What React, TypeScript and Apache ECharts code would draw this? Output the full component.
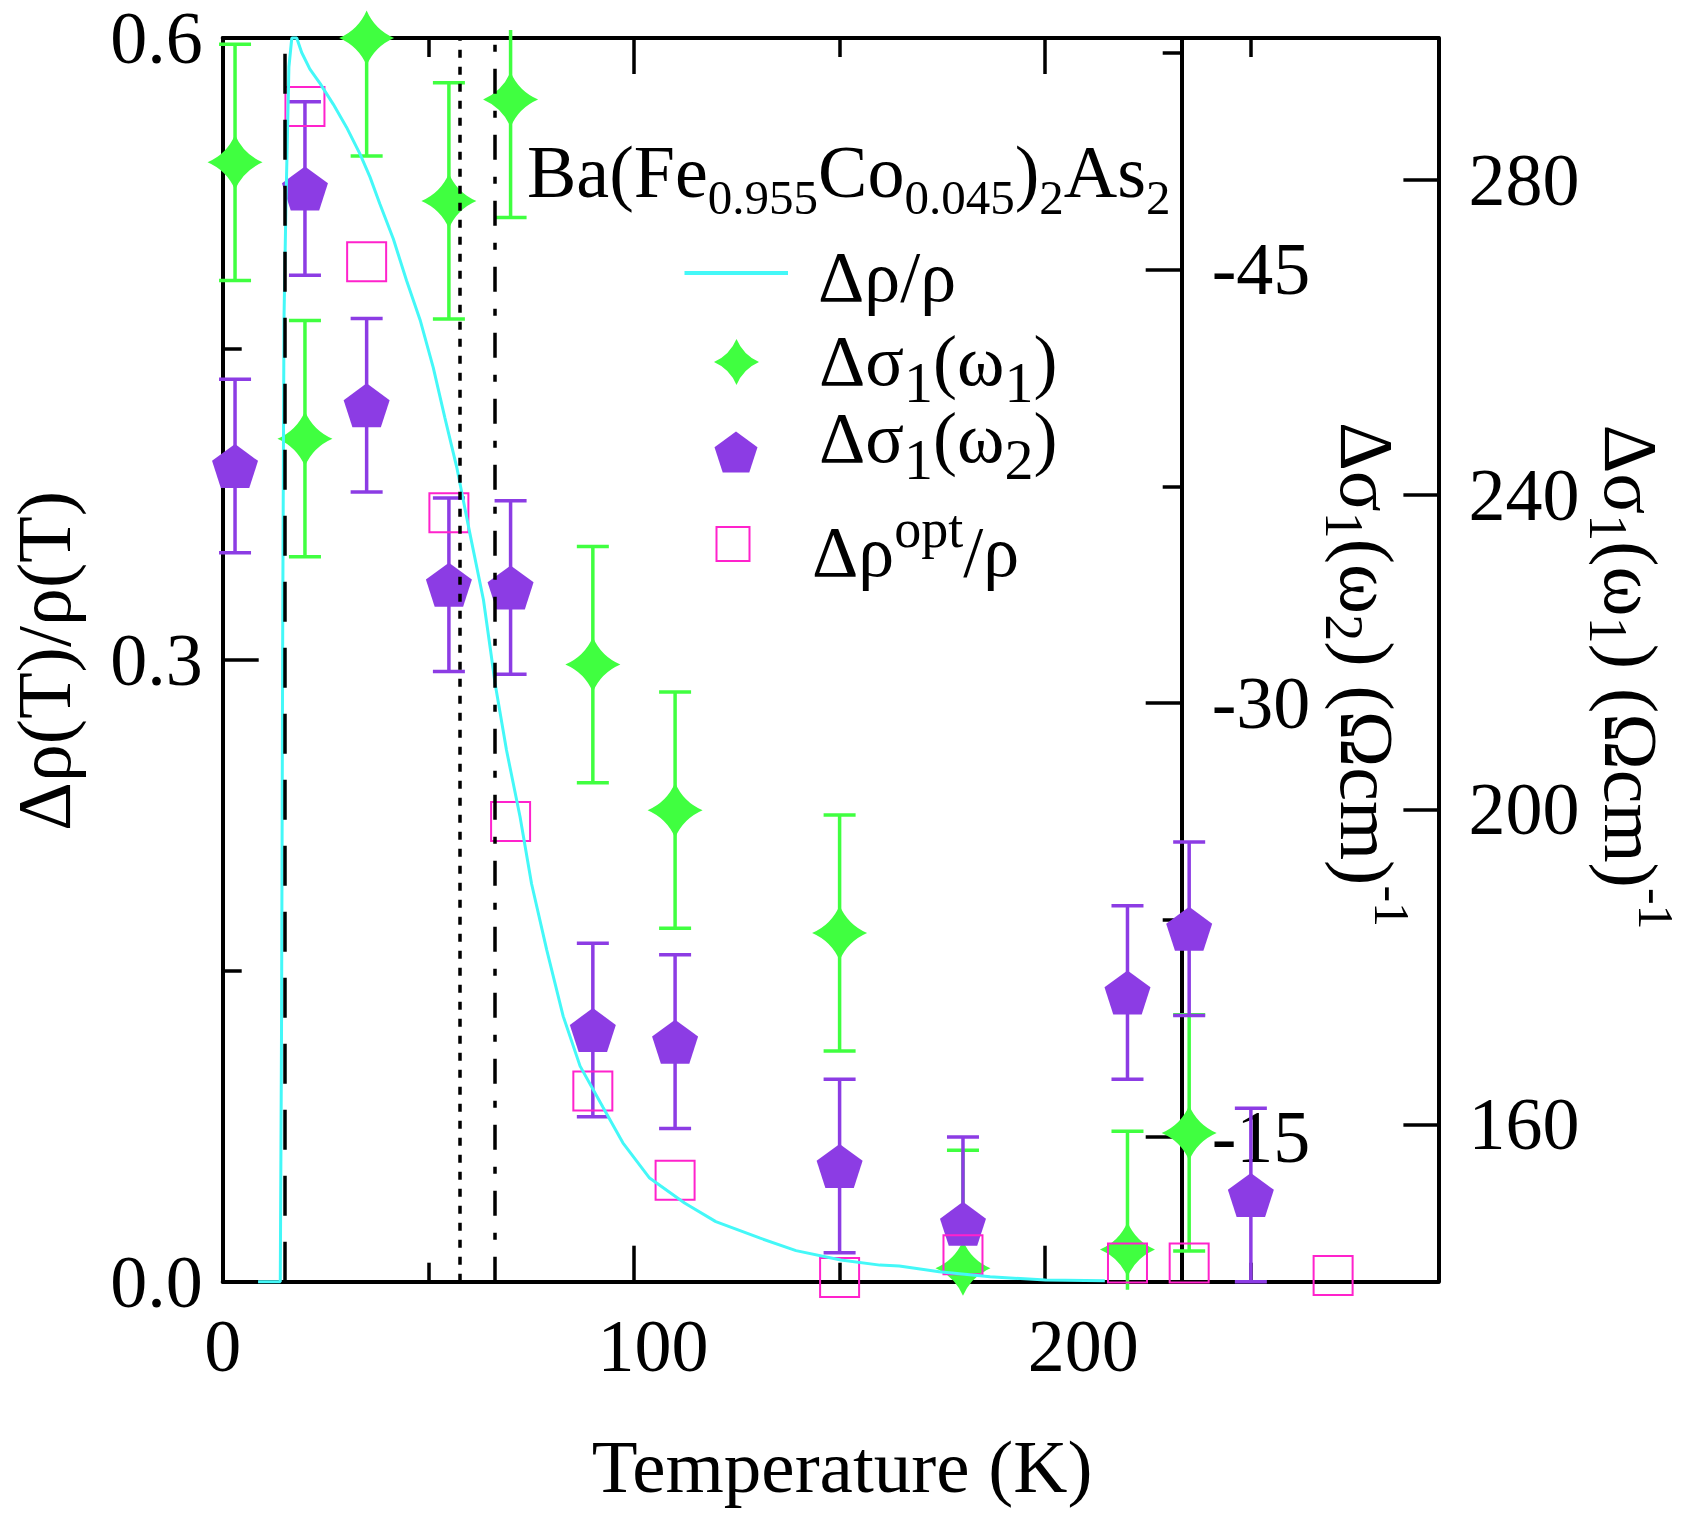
import React, { useEffect, useRef } from 'react';
import * as echarts from 'echarts';

const FONT = '"Liberation Serif", "DejaVu Serif", serif';
const GREEN = '#40FF40';
const PURPLE = '#8C3CE4';
const MAGENTA = '#FF22CC';
const CYAN = '#44F8F8';

// ---- axis ranges / ticks ----
const X_MIN = 0;
const X_MAX = 295.6;
const xMajorTicks = [0, 100, 200];
const xMinorTicks = [50, 150, 250];
const xTickLabels = [0, 100, 200];
const X_LABEL_MAX = 282.5; // the printed tick labels sit slightly right of their ticks
const rhoMin = 0;
const rhoMax = 0.6;
const omega1Min = 140;
const omega1Max = 298;
const omega1Ticks = [160, 200, 240, 280];
const omega2Min = -53;
const omega2Max = -10;
const omega2Ticks = [-45, -30, -15];
const omega2MinorTicks = [-52.5, -37.5, -22.5];

// ---- Δσ1(ω1) (green stars, right outer axis) ----
const sigmaW1Temps = [3, 20, 35, 55, 70, 90, 110, 150, 180, 220, 235];
const sigmaW1Values = [282.2, 247.1, 298.0, 277.3, 290.2, 218.4, 199.9, 184.3, 141.7, 144.1, 158.9];
const sigmaW1Errors = [15, 15, 15, 15, 15, 15, 15, 15, 15, 15, 15];

// ---- Δσ1(ω2) (purple pentagons, middle inverted axis) ----
const sigmaW2Temps = [3, 20, 35, 55, 70, 90, 110, 150, 180, 220, 235, 250];
const sigmaW2Values = [-38.2, -47.8, -40.3, -34.1, -34.0, -18.7, -18.3, -14.0, -12.0, -20.0, -22.2, -13.0];
const sigmaW2Errors = [3, 3, 3, 3, 3, 3, 3, 3, 3, 3, 3, 3];

// ---- Δρ^opt/ρ (magenta open squares, left axis) ----
const rhoOptTemps = [20, 35, 55, 70, 90, 110, 150, 180, 220, 235, 270];
const rhoOptValues = [0.567, 0.492, 0.371, 0.222, 0.092, 0.049, 0.002, 0.013, 0.009, 0.009, 0.003];

// ---- Δρ/ρ (cyan curve, left axis) ----
const rhoTemps = [
  8.6, 14.0, 14.3, 14.6, 14.9, 15.4, 16.1, 16.8, 18.0, 19.2, 21.2, 23.7, 26.9, 30.1, 33.4, 35.8,
  38.2, 41.5, 44.7, 48.0, 51.2, 54.0, 56.9, 60.1, 63.4, 65.1, 66.2, 69.0, 72.3, 75.1, 78.8, 82.8,
  86.9, 92.5, 97.3, 103.8, 112.3, 119.9, 130.7, 139.4, 150.3, 159.8, 164.5, 174.2, 186.6, 200.1, 214.5,
];
const rhoValues = [
  0, 0, 0.12, 0.32, 0.464, 0.522, 0.586, 0.6, 0.6, 0.593, 0.585, 0.578, 0.568, 0.557, 0.544, 0.533,
  0.52, 0.503, 0.483, 0.464, 0.441, 0.417, 0.393, 0.361, 0.329, 0.305, 0.289, 0.2565, 0.2243, 0.192, 0.16, 0.128,
  0.104, 0.084, 0.067, 0.05, 0.038, 0.029, 0.021, 0.015, 0.0105, 0.008, 0.0076, 0.0048, 0.0024, 0.0008, 0.0005,
];

// ---- vertical reference lines (K) ----
const refLineTemps = [15.2, 57.7, 66.2];
const refLineDashes = [[40, 26], [8, 9], [25, 17, 7, 17]];

echarts.graphic.registerShape(
  'star4',
  echarts.graphic.extendPath('M0,-1 Q0.3,-0.3 1,0 Q0.3,0.3 0,1 Q-0.3,0.3 -1,0 Q-0.3,-0.3 0,-1 Z', {})
);

const STAR_PATH = 'path://M100,0 Q130,70 200,100 Q130,130 100,200 Q70,130 0,100 Q70,70 100,0 Z';
const PENTAGON_PATH = 'path://M100,0 L195.1,69.1 L158.8,180.9 L41.2,180.9 L4.9,69.1 Z';

function pentagonPoints(cx: number, cy: number, r: number) {
  const pts: number[][] = [];
  for (let k = 0; k < 5; k++) {
    const a = -Math.PI / 2 + (k * 2 * Math.PI) / 5;
    pts.push([cx + r * Math.cos(a), cy + r * Math.sin(a)]);
  }
  return pts;
}

function errorBars(temps: number[], vals: number[], errs: number[], yAxisIndex: number, color: string) {
  return {
    type: 'custom',
    xAxisIndex: 0,
    yAxisIndex,
    clip: false,
    silent: true,
    data: temps.map((t, i) => [t, vals[i] - errs[i], vals[i] + errs[i]]),
    encode: { x: 0, y: [1, 2] },
    renderItem: (params: any, api: any) => {
      const x = api.value(0);
      const a = api.coord([x, api.value(1)]);
      const b = api.coord([x, api.value(2)]);
      const cs = params.coordSys;
      const top = cs.y - 8;
      const bottom = cs.y + cs.height + 8;
      const y1 = Math.min(a[1], b[1]);
      const y2 = Math.max(a[1], b[1]);
      const cy1 = Math.max(y1, top);
      const cy2 = Math.min(y2, bottom);
      const style = { stroke: color, lineWidth: 3.5 };
      const children: any[] = [
        { type: 'line', shape: { x1: a[0], y1: cy1, x2: a[0], y2: cy2 }, style },
      ];
      const half = 16;
      if (y1 >= top) children.push({ type: 'line', shape: { x1: a[0] - half, y1, x2: a[0] + half, y2: y1 }, style });
      if (y2 <= bottom) children.push({ type: 'line', shape: { x1: a[0] - half, y1: y2, x2: a[0] + half, y2 }, style });
      return { type: 'group', children };
    },
  };
}

const axisLine = { show: true, onZero: false, lineStyle: { color: '#000', width: 4 } };
const noAxisLine = { show: false, onZero: false };
const tickStyle = { color: '#000', width: 3.5 };
const labelBase = { fontSize: 74, lineHeight: 74, fontFamily: FONT, color: '#000' };

const titleRich = {
  m: { fontSize: 76, fontFamily: FONT, lineHeight: 100, fill: '#000' },
  s: { fontSize: 54, fontFamily: FONT, lineHeight: 57, verticalAlign: 'bottom', fill: '#000' },
  p: { fontSize: 50, fontFamily: FONT, lineHeight: 46, verticalAlign: 'top', fill: '#000' },
};
const legendRich = {
  m: { fontSize: 72, fontFamily: FONT, lineHeight: 100, fill: '#000' },
  s: { fontSize: 58, fontFamily: FONT, lineHeight: 70, verticalAlign: 'bottom', fill: '#000' },
  p: { fontSize: 54, fontFamily: FONT, lineHeight: 46, verticalAlign: 'top', fill: '#000' },
};
const compoundRich = {
  m: { fontSize: 74, fontFamily: FONT, lineHeight: 100, fill: '#000' },
  s: { fontSize: 49, fontFamily: FONT, lineHeight: 56, verticalAlign: 'bottom', fill: '#000' },
};

function richText(x: number, y: number, text: string, rich: any, align = 'left', rotation = 0) {
  return {
    type: 'text',
    x,
    y,
    rotation,
    silent: true,
    style: { text, rich, fontSize: 74, fontFamily: FONT, fill: '#000', align, verticalAlign: 'middle' },
  };
}

function plainText(x: number, y: number, text: string, fontSize: number, rotation = 0) {
  return {
    type: 'text',
    x,
    y,
    rotation,
    silent: true,
    style: { text, fontSize, lineHeight: fontSize, fontFamily: FONT, fill: '#000', align: 'center', verticalAlign: 'middle' },
  };
}

export default function App() {
  const ref = useRef<HTMLDivElement>(null);
  useEffect(() => {
    if (!ref.current) return;
    const chart = echarts.init(ref.current, undefined, { renderer: 'svg' });
    const option: any = {
      animation: false,
      backgroundColor: '#fff',
      textStyle: { fontFamily: FONT },
      grid: { left: 222.7, top: 38, right: 246.6, bottom: 232.3, containLabel: false, outerBoundsMode: 'none' },
      xAxis: [
        {
          type: 'value', position: 'bottom', min: X_MIN, max: X_MAX,
          axisLine,
          axisTick: { show: true, inside: true, length: 36, lineStyle: tickStyle, customValues: xMajorTicks },
          axisLabel: { show: false },
          splitLine: { show: false },
        },
        {
          type: 'value', position: 'top', min: X_MIN, max: X_MAX,
          axisLine,
          axisTick: { show: true, inside: true, length: 36, lineStyle: tickStyle, customValues: xMajorTicks },
          axisLabel: { show: false },
          splitLine: { show: false },
        },
        {
          type: 'value', position: 'bottom', min: X_MIN, max: X_MAX,
          axisLine: noAxisLine,
          axisTick: { show: true, inside: true, length: 19, lineStyle: tickStyle, customValues: xMinorTicks },
          axisLabel: { show: false },
          splitLine: { show: false },
        },
        {
          type: 'value', position: 'top', min: X_MIN, max: X_MAX,
          axisLine: noAxisLine,
          axisTick: { show: true, inside: true, length: 19, lineStyle: tickStyle, customValues: xMinorTicks },
          axisLabel: { show: false },
          splitLine: { show: false },
        },
        {
          // tick-label row of the temperature axis
          type: 'value', position: 'bottom', min: X_MIN, max: X_LABEL_MAX,
          axisLine: noAxisLine,
          axisTick: { show: false },
          axisLabel: { show: true, margin: 27, customValues: xTickLabels, ...labelBase },
          splitLine: { show: false },
        },
      ],
      yAxis: [
        {
          type: 'value', position: 'left', min: rhoMin, max: rhoMax, interval: 0.3,
          axisLine,
          axisTick: { show: true, inside: true, length: 36, lineStyle: tickStyle },
          minorTick: { show: true, splitNumber: 2, length: 19, lineStyle: tickStyle },
          axisLabel: { margin: 20, formatter: (v: number) => v.toFixed(1), ...labelBase },
          splitLine: { show: false },
          minorSplitLine: { show: false },
        },
        {
          type: 'value', position: 'right', offset: 0, min: omega1Min, max: omega1Max,
          axisLine,
          axisTick: { show: true, inside: true, length: 35, lineStyle: tickStyle, customValues: omega1Ticks },
          axisLabel: { margin: 30, customValues: omega1Ticks, formatter: (v: number) => String(v), ...labelBase },
          splitLine: { show: false },
        },
        {
          type: 'value', position: 'right', offset: -256.7, min: omega2Min, max: omega2Max, inverse: true,
          axisLine,
          axisTick: { show: true, inside: true, length: 36, lineStyle: tickStyle, customValues: omega2Ticks },
          axisLabel: { margin: 30, customValues: omega2Ticks, formatter: (v: number) => String(v), ...labelBase },
          splitLine: { show: false },
        },
        {
          type: 'value', position: 'right', offset: -256.7, min: omega2Min, max: omega2Max, inverse: true,
          axisLine: noAxisLine,
          axisTick: { show: true, inside: true, length: 19, lineStyle: tickStyle, customValues: omega2MinorTicks },
          axisLabel: { show: false },
          splitLine: { show: false },
        },
      ],
      series: [
        errorBars(sigmaW1Temps, sigmaW1Values, sigmaW1Errors, 1, GREEN),
        {
          name: 'Δσ1(ω1)', type: 'scatter', xAxisIndex: 0, yAxisIndex: 1, clip: false, silent: true,
          symbol: STAR_PATH, symbolSize: 55,
          itemStyle: { color: GREEN, opacity: 1 },
          data: sigmaW1Temps.map((t, i) => [t, sigmaW1Values[i]]),
        },
        errorBars(sigmaW2Temps, sigmaW2Values, sigmaW2Errors, 2, PURPLE),
        {
          name: 'Δσ1(ω2)', type: 'scatter', xAxisIndex: 0, yAxisIndex: 2, clip: false, silent: true,
          symbol: PENTAGON_PATH, symbolSize: [46, 44],
          itemStyle: { color: PURPLE, opacity: 1 },
          data: sigmaW2Temps.map((t, i) => [t, sigmaW2Values[i]]),
        },
        {
          name: 'Δρopt/ρ', type: 'scatter', xAxisIndex: 0, yAxisIndex: 0, clip: false, silent: true,
          symbol: 'rect', symbolSize: 39,
          itemStyle: { color: 'rgba(0,0,0,0)', borderColor: MAGENTA, borderWidth: 2, opacity: 1 },
          data: rhoOptTemps.map((t, i) => [t, rhoOptValues[i]]),
        },
        {
          name: 'Δρ/ρ', type: 'line', xAxisIndex: 0, yAxisIndex: 0, silent: true, z: 3,
          showSymbol: false, symbol: 'none', clip: false,
          lineStyle: { color: CYAN, width: 3 },
          data: rhoTemps.map((t, i) => [t, rhoValues[i]]),
          markLine: {
            silent: true,
            symbol: ['none', 'none'],
            label: { show: false },
            emphasis: { disabled: true },
            data: refLineTemps.map((t, i) => ({
              xAxis: t,
              lineStyle: { color: '#000', width: 3.5, type: refLineDashes[i] },
            })),
          },
        },
      ],
      graphic: {
        elements: [
          // compound name
          richText(527, 172.4, '{m|Ba(Fe}{s|0.955}{m|Co}{s|0.045}{m|)}{s|2}{m|As}{s|2}', compoundRich),
          // legend
          { type: 'line', silent: true, shape: { x1: 684.5, y1: 273, x2: 788, y2: 273 }, style: { stroke: CYAN, lineWidth: 4 } },
          richText(818, 277, '{m|Δρ/ρ}', legendRich),
          { type: 'star4', silent: true, x: 736.5, y: 362, scaleX: 22.5, scaleY: 23, style: { fill: GREEN } },
          richText(819, 361, '{m|Δσ}{s|1}{m|(ω}{s|1}{m|)}', legendRich),
          { type: 'polygon', silent: true, shape: { points: pentagonPoints(736, 454.2, 22.6) }, style: { fill: PURPLE } },
          richText(819, 438, '{m|Δσ}{s|1}{m|(ω}{s|2}{m|)}', legendRich),
          { type: 'rect', silent: true, shape: { x: 716.5, y: 527, width: 33, height: 34 }, style: { fill: 'none', stroke: MAGENTA, lineWidth: 2 } },
          richText(812, 552, '{m|Δρ}{p|opt}{m|/ρ}', legendRich),
          // axis titles
          plainText(842, 1466, 'Temperature (K)', 75),
          plainText(44, 661, 'Δρ(T)/ρ(T)', 76, Math.PI / 2),
          richText(1366.5, 674.5, '{m|Δσ}{s|1}{m|(ω}{s|2}{m|) (Ωcm)}{p|-1}', titleRich, 'center', -Math.PI / 2),
          richText(1631, 677, '{m|Δσ}{s|1}{m|(ω}{s|1}{m|) (Ωcm)}{p|-1}', titleRich, 'center', -Math.PI / 2),
        ],
      },
    };
    chart.setOption(option);
    return () => chart.dispose();
  }, []);
  return (
    <div
      ref={ref}
      style={{ position: 'absolute', left: 0, top: 0, width: 1685, height: 1514, background: '#fff' }}
    />
  );
}
